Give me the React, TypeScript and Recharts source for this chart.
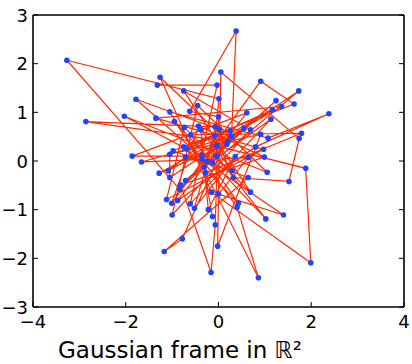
import React from 'react';
import { ScatterChart, Scatter, XAxis, YAxis } from 'recharts';

// Frame vectors, in the order they are joined by the line
const frameX = [
  -1.32, -0.03, -0.61, 1.13, -0.71, 1.24, -0.84, -3.27, 0.01, -0.13,
  1.73, -0.04, 1.88, 1.99, -0.15, -1.26, 0.2, -2.86, -0.07, -0.25,
  -1.78, 0.02, -1.08, 1.36, -1.35, 0.97, -1.12, -0.74, 0.69, -0.75,
  0.69, -1.0, -0.45, 1.05, -2.03, -0.69, 1.16, -1.28, 0.18, -0.31,
  -1.05, 1.07, 2.38, 0.8, -0.88, 0.61, -1.86, -0.04, 1.02, -0.95,
  0.4, 0.86, -0.28, 1.79, -0.6, 0.43, -0.75, 0.25, -0.78, -1.17,
  0.64, -0.98, 1.63, 0.91, -1.01, -0.43, 0.99, -0.82, -0.16, -0.07,
  0.0, -0.62, 0.38, 0.28, -1.66, 0.64, 0.0, 1.4, -0.35, 0.55,
  -1.05, -1.05, 0.91, -0.02, 0.05, 1.74, 1.52, 0.32, -0.08, -0.52,
  0.36, -0.22, -0.38, 0.3, -0.71, -0.36, -0.13,
];
const frameY = [
  1.56, 1.56, -0.88, 0.86, -0.4, 1.24, -0.58, 2.07, 1.28, -0.03,
  1.44, 0.31, -0.15, -2.09, -0.64, 1.72, 0.4, 0.81, 0.7, -0.01,
  1.27, 0.65, -0.2, 1.12, 0.88, 0.24, -0.79, 0.69, -0.64, 1.44,
  0.64, -1.11, 1.14, -0.23, 0.92, 0.25, 1.05, -0.25, 0.34, -0.13,
  1.01, 0.47, 0.97, 0.29, -0.81, 0.99, 0.1, 0.1, -1.19, 0.81,
  -0.95, -2.4, -0.24, 0.57, 0.54, -0.87, 0.29, 0.62, -1.6, -1.86,
  -0.34, 0.21, 1.17, 1.64, -0.87, 0.72, 0.08, -0.49, -2.29, -1.31,
  0.91, 1.02, 2.67, 0.5, -0.02, 0.07, -0.68, -1.11, 0.03, 0.67,
  -0.34, 0.14, 0.55, -1.75, 1.83, 0.46, -0.42, -0.34, 0.52, -0.97,
  0.09, -1.0, 0.64, -0.2, 0.08, 0.11, -1.14,
];

const xTicks = [-4, -2, 0, 2, 4];
const yTicks = [-3, -2, -1, 0, 1, 2, 3];
const xDomain = [-4, 4];
const yDomain = [-3, 3];
const title = 'Gaussian frame in \u211D\u00B2';

const data = frameX.map((x, i) => ({ x, y: frameY[i] }));

const FONT = '"DejaVu Sans", sans-serif';
const fmt = (v: number) => (v < 0 ? '\u2212' + Math.abs(v) : String(v));

const BottomTick = (p: any) => (
  <g>
    <line x1={p.x} x2={p.x} y1={p.y} y2={p.y - 5} stroke="#000" />
    <text x={p.x} y={p.y + 21} textAnchor="middle" fontSize={18} fontFamily={FONT} fill="#000">
      {fmt(p.payload.value)}
    </text>
  </g>
);
const TopTick = (p: any) => (
  <line x1={p.x} x2={p.x} y1={p.y} y2={p.y + 5} stroke="#000" />
);
const LeftTick = (p: any) => (
  <g>
    <line x1={p.x} x2={p.x + 5} y1={p.y} y2={p.y} stroke="#000" />
    <text x={p.x - 5} y={p.y + 6.5} textAnchor="end" fontSize={18} fontFamily={FONT} fill="#000">
      {fmt(p.payload.value)}
    </text>
  </g>
);
const RightTick = (p: any) => (
  <line x1={p.x} x2={p.x - 5} y1={p.y} y2={p.y} stroke="#000" />
);

const Dot = (p: any) => <circle cx={p.cx} cy={p.cy} r={2.8} fill="#1f45ff" />;

const frame = { stroke: '#000', strokeWidth: 1.6 };

export default function App() {
  return (
    <div style={{ position: 'absolute', left: 0, top: 0, width: 412, height: 364, background: '#fff' }}>
      <ScatterChart width={412} height={364} margin={{ top: 14, right: 7, bottom: 56, left: 32 }}>
        <XAxis xAxisId="b" dataKey="x" type="number" domain={xDomain} ticks={xTicks} interval={0}
          height={1} tickSize={0} tickMargin={0} tickLine={false} tick={BottomTick}
          axisLine={frame} allowDataOverflow />
        <XAxis xAxisId="t" orientation="top" type="number" domain={xDomain} ticks={xTicks} interval={0}
          height={1} tickSize={0} tickMargin={0} tickLine={false} tick={TopTick}
          axisLine={frame} allowDataOverflow />
        <YAxis yAxisId="l" dataKey="y" type="number" domain={yDomain} ticks={yTicks} interval={0}
          width={1} tickSize={0} tickMargin={0} tickLine={false} tick={LeftTick}
          axisLine={frame} allowDataOverflow />
        <YAxis yAxisId="r" orientation="right" type="number" domain={yDomain} ticks={yTicks} interval={0}
          width={1} tickSize={0} tickMargin={0} tickLine={false} tick={RightTick}
          axisLine={frame} allowDataOverflow />
        <Scatter xAxisId="b" yAxisId="l" data={data} line={{ stroke: '#ff2a00', strokeWidth: 1.2 }}
          shape={Dot} isAnimationActive={false} />
      </ScatterChart>
      <svg width={412} height={364} style={{ position: 'absolute', left: 0, top: 0, pointerEvents: 'none' }}>
        <text x={58} y={358} fontSize={23} fontFamily={FONT} fill="#000">{title}</text>
      </svg>
    </div>
  );
}
